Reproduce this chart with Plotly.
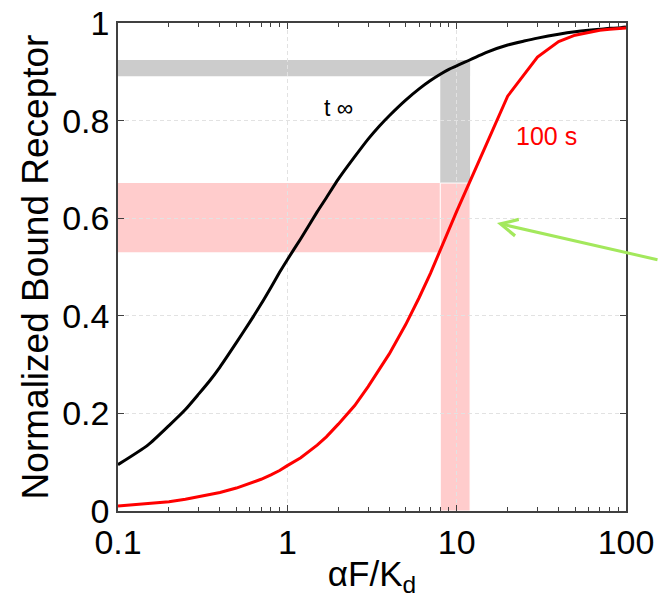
import plotly.graph_objects as go
import math

# Data
x_black = [0.1, 0.15, 0.2, 0.25, 0.3, 0.35, 0.4, 0.5, 0.6, 0.7, 0.8, 0.9,
           1, 1.2, 1.5, 1.7, 2, 2.5, 3, 3.5, 4, 5, 6, 7, 8, 9,
           10, 15, 20, 25, 30, 40, 50, 60, 70, 80, 90, 100]
black_tinf = [0.095, 0.135, 0.175, 0.208, 0.240, 0.268, 0.295, 0.345, 0.387, 0.424, 0.458, 0.489,
              0.515, 0.558, 0.613, 0.642, 0.680, 0.726, 0.762, 0.789, 0.810, 0.842, 0.865, 0.882, 0.895, 0.905,
              0.912, 0.940, 0.955, 0.963, 0.969, 0.977, 0.982, 0.985, 0.987, 0.989, 0.990, 0.992]

x_red = [0.1, 0.15, 0.2, 0.25, 0.3, 0.35, 0.4, 0.5, 0.6, 0.7, 0.8, 0.9,
         1, 1.2, 1.5, 1.7, 2, 2.5, 3, 3.5, 4, 5, 6, 7, 8, 9,
         10, 15, 20, 30, 40, 50, 60, 70, 80, 90, 100]
red_100s = [0.010, 0.0145, 0.019, 0.024, 0.029, 0.0335, 0.038, 0.047, 0.056, 0.065, 0.074, 0.083,
            0.093, 0.109, 0.135, 0.152, 0.178, 0.216, 0.255, 0.290, 0.322, 0.382, 0.437, 0.487, 0.534, 0.575,
            0.614, 0.752, 0.850, 0.930, 0.962, 0.975, 0.981, 0.985, 0.987, 0.989, 0.990]

x_ticks = [0.1, 1, 10, 100]
x_tick_labels = ["0.1", "1", "10", "100"]
y_ticks = [0, 0.2, 0.4, 0.6, 0.8, 1]
y_tick_labels = ["0", "0.2", "0.4", "0.6", "0.8", "1"]
x_minor = [k * d for d in (0.1, 1, 10) for k in range(2, 10)]

# shaded bands (x range, y range)
gray_h = ([0.1, 12], [0.891, 0.924])
gray_v = ([8, 12], [0.672, 0.924])
pink_h = ([0.1, 8], [0.530, 0.672])
pink_v = ([8, 12], [0.0, 0.672])

FONT = "Liberation Sans, Arial, sans-serif"

fig = go.Figure()
fig.add_trace(go.Scatter(x=x_black, y=black_tinf, mode="lines",
                         line=dict(color="black", width=3, shape="spline",
                                   smoothing=0.6),
                         showlegend=False))
fig.add_trace(go.Scatter(x=x_red, y=red_100s, mode="lines",
                         line=dict(color="#ff0000", width=3),
                         showlegend=False))

def band(rng, color, white_edge=False):
    fig.add_shape(type="rect", xref="x", yref="y",
                  x0=rng[0][0], x1=rng[0][1], y0=rng[1][0], y1=rng[1][1],
                  fillcolor=color,
                  line=dict(color="white", width=1) if white_edge else dict(width=0),
                  layer="below")

band(gray_h, "#cccccc")
band(gray_v, "#cccccc")
band(pink_h, "#ffcccc")
band(pink_v, "#ffcccc", white_edge=True)

fig.add_annotation(x=math.log10(2.0), y=0.826, text="t ∞", showarrow=False,
                   font=dict(family=FONT, size=23, color="black"))
fig.add_annotation(x=math.log10(33.7), y=0.768, text="100 s", showarrow=False,
                   font=dict(family=FONT, size=25, color="#ff0000"))
fig.add_annotation(x=math.log10(17.3), y=0.59, text="", showarrow=True,
                   ax=165, ay=37, arrowhead=5, arrowsize=1.1, arrowwidth=3,
                   arrowcolor="#a3e85c")

axis_common = dict(showline=True, linecolor="#404040", linewidth=1.5,
                   mirror="ticks", ticks="inside", tickcolor="#404040",
                   tickfont=dict(family=FONT, size=34, color="black"),
                   showgrid=True, gridcolor="#e2e2e2", griddash="4px,3px",
                   gridwidth=1, zeroline=False, automargin=False)

fig.update_xaxes(type="log", range=[-1, 2], tickvals=x_ticks,
                 ticktext=x_tick_labels, ticklen=6,
                 minor=dict(tickvals=x_minor, ticks="inside", ticklen=4,
                            tickcolor="#404040", showgrid=False),
                 title=dict(text="αF/K<sub>d</sub>",
                            font=dict(family=FONT, size=35, color="black"),
                            standoff=2),
                 **axis_common)
fig.update_yaxes(range=[0, 1], tickvals=y_ticks, ticktext=y_tick_labels,
                 ticklen=6,
                 title=dict(text="Normalized Bound Receptor",
                            font=dict(family=FONT, size=37, color="black"),
                            standoff=2),
                 **axis_common)

fig.update_layout(width=659, height=610, plot_bgcolor="white",
                  paper_bgcolor="white",
                  margin=dict(l=118, r=33, t=23, b=99),
                  font=dict(family=FONT))
fig.write_html("out.html")
